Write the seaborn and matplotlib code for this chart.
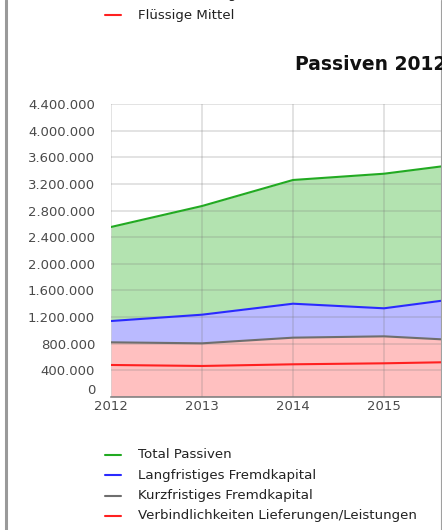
import pandas as pd
import seaborn as sns
import matplotlib.pyplot as plt
from matplotlib.lines import Line2D
from matplotlib.ticker import FuncFormatter

# Passiven 2012 - 2016
years = [2012, 2013, 2014, 2015, 2016]
total_passiven = [2553000, 2868000, 3259000, 3353000, 3527000]
langfristig = [1141000, 1236000, 1401000, 1332000, 1511000]
kurzfristig = [821000, 806000, 891000, 911000, 840000]
verbindlichkeiten = [481000, 466000, 491000, 506000, 530000]

series_names = ['Total Passiven', 'Langfristiges Fremdkapital',
                'Kurzfristiges Fremdkapital', 'Verbindlichkeiten Lieferungen/Leistungen']
line_colors = ['#22aa22', '#2a2aff', '#6e6e6e', '#ff2020']
top_legend = ['Umlaufvermögen', 'Flüssige Mittel']
top_legend_colors = ['#6e6e6e', '#ff2020']

df = pd.DataFrame({'Jahr': years,
                   series_names[0]: total_passiven,
                   series_names[1]: langfristig,
                   series_names[2]: kurzfristig,
                   series_names[3]: verbindlichkeiten})
long_df = df.melt(id_vars='Jahr', var_name='Serie', value_name='Wert')

sns.set_theme(style='white')
plt.rcParams['font.family'] = ['DejaVu Sans']

fig = plt.figure(figsize=(4.42, 5.30), dpi=100)
W, H = 442, 530
# axes: 2012 at x=111, 2016 at x=475 (cut off), y 0 at 397, 4.4M at 104
ax = fig.add_axes([111 / W, (H - 397) / H, 364 / W, 293 / H])

# stacked-looking areas
ax.fill_between(df['Jahr'], df[series_names[1]], df[series_names[0]],
                color='#b3e3b0', zorder=1, lw=0)
ax.fill_between(df['Jahr'], df[series_names[2]], df[series_names[1]],
                color='#babaff', zorder=1, lw=0)
ax.fill_between(df['Jahr'], 0, df[series_names[2]],
                color='#ffc0c0', zorder=1, lw=0)

sns.lineplot(data=long_df, x='Jahr', y='Wert', hue='Serie',
             hue_order=series_names, palette=line_colors,
             linewidth=1.5, legend=False, ax=ax, zorder=3)

ax.set_xlim(2012, 2016)
ax.set_ylim(0, 4400000)
# the 2016 label lies outside the cropped screenshot
ax.set_xticks(years[:-1])
ax.set_yticks(range(0, 4400001, 400000))
ax.yaxis.set_major_formatter(FuncFormatter(lambda v, p: f'{int(v):,}'.replace(',', '.')))
ax.grid(True, color='#777777', alpha=0.26, linewidth=1.1, zorder=2)
ax.set_axisbelow(False)
for sp in ['top', 'right', 'left']:
    ax.spines[sp].set_visible(False)
ax.spines['bottom'].set_color('#888888')
ax.spines['bottom'].set_linewidth(1.2)
ax.set_xlabel('')
ax.set_ylabel('')
ax.tick_params(axis='both', length=0, labelsize=9.5, colors='#4a4a4a')
ax.tick_params(axis='y', pad=11.5)
ax.tick_params(axis='x', pad=2)
for lbl in ax.get_yticklabels():
    if lbl.get_text() == '0':
        lbl.set_va('bottom')

# title (cut off at right, as in the screenshot)
fig.text(295 / W, 1 - 64 / H, 'Passiven 2012 - 2016', fontsize=13.5, fontweight='bold',
         color='#111111', va='center', ha='left')

# legends drawn manually
def legend_row(y_px, label, color):
    fig.add_artist(Line2D([105 / W, 121 / W], [1 - y_px / H, 1 - y_px / H],
                          color=color, lw=1.5, transform=fig.transFigure))
    fig.text(138 / W, 1 - y_px / H, label, fontsize=9.6, color='#222222',
             va='center', ha='left')

for i, (lab, col) in enumerate(zip(top_legend, top_legend_colors)):
    legend_row(-5 + 20 * i, lab, col)
for i, (lab, col) in enumerate(zip(series_names, line_colors)):
    legend_row(455 + 20.3 * i, lab, col)

# frame lines of the screenshot
fig.add_artist(Line2D([6 / W, 6 / W], [0, 1], color='#9a9a9a', lw=2.2,
                      transform=fig.transFigure))
fig.add_artist(Line2D([441 / W, 441 / W], [0, 1], color='#a0a0a0', lw=0.8,
                      transform=fig.transFigure))

fig.savefig('out.png', dpi=100)
